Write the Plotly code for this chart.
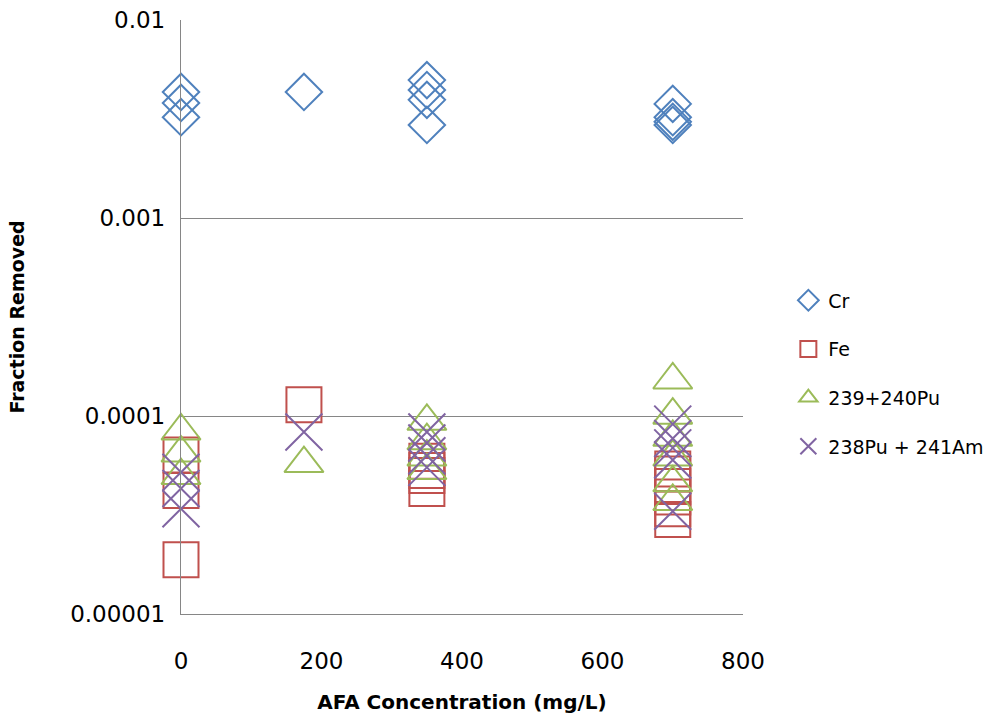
import plotly.graph_objects as go

# AFA concentration (mg/L) and fraction removed for each analyte
cr_x = [0, 0, 0, 175, 350, 350, 350, 350, 700, 700, 700, 700]
cr_y = [0.00433, 0.00381, 0.00323, 0.00433, 0.00497, 0.00443, 0.00395, 0.00295,
        0.00377, 0.00323, 0.00306, 0.00295]

fe_x = [0, 0, 0, 175, 350, 350, 350, 350, 700, 700, 700, 700, 700, 700]
fe_y = [0.0000635, 0.0000420, 0.0000188, 0.000114, 0.0000590, 0.0000530, 0.0000500,
        0.0000430, 0.0000540, 0.0000510, 0.0000440, 0.0000390, 0.0000340, 0.0000300]

pu_x = [0, 0, 0, 175, 350, 350, 350, 350, 700, 700, 700, 700, 700, 700]
pu_y = [0.0000840, 0.0000650, 0.0000500, 0.0000575, 0.0000940, 0.0000750, 0.0000620,
        0.0000530, 0.000152, 0.000101, 0.0000780, 0.0000620, 0.0000460, 0.0000370]

am_x = [0, 0, 0, 175, 350, 350, 350, 350, 700, 700, 700, 700, 700]
am_y = [0.0000520, 0.0000430, 0.0000340, 0.0000830, 0.0000830, 0.0000730, 0.0000630,
        0.0000550, 0.0000910, 0.0000770, 0.0000690, 0.0000600, 0.0000330]

y_ticks = [0.00001, 0.0001, 0.001, 0.01]
y_tick_text = ["0.00001", "0.0001", "0.001", "0.01"]
x_ticks = [0, 200, 400, 600, 800]

FONT = "DejaVu Sans"
GRID = "#868686"

series = [
    ("Cr", cr_x, cr_y, "diamond-open", 28, "#4F81BD"),
    ("Fe", fe_x, fe_y, "square-open", 35, "#C0504D"),
    ("239+240Pu", pu_x, pu_y, "triangle-up-open", 34, "#9BBB59"),
    ("238Pu + 241Am", am_x, am_y, "x-thin-open", 37, "#8064A2"),
]

fig = go.Figure()
for i, (name, xs, ys, sym, size, color) in enumerate(series):
    fig.add_trace(go.Scatter(
        x=xs, y=ys, mode="markers", name=name, legendgroup=f"g{i}",
        cliponaxis=False,
        marker=dict(symbol=sym, size=size, color=color,
                    line=dict(color=color, width=2)),
    ))

fig.update_layout(
    width=1003, height=727,
    margin=dict(l=181, r=260, t=20, b=113, autoexpand=False),
    paper_bgcolor="white", plot_bgcolor="white",
    font=dict(family=FONT, size=23, color="black"),
    showlegend=True,
    legend=dict(xref="container", yref="container",
                x=0.786, xanchor="left", y=0.613, yanchor="top",
                font=dict(family=FONT, size=19, color="black"),
                tracegroupgap=21, bgcolor="rgba(0,0,0,0)"),
    xaxis=dict(
        range=[0, 800], tickvals=x_ticks, showgrid=False, zeroline=False,
        showline=True, linecolor=GRID, linewidth=1.3,
        ticks="", ticklabelstandoff=26,
        tickfont=dict(family=FONT, size=23),
        title=dict(text="<b>AFA Concentration (mg/L)</b>",
                   font=dict(family=FONT, size=20), standoff=22),
    ),
    yaxis=dict(
        type="log", range=[-5, -2], tickvals=y_ticks, ticktext=y_tick_text,
        showgrid=True, gridcolor=GRID, gridwidth=1.3,
        showline=True, linecolor=GRID, linewidth=1.3,
        ticks="", ticklabelstandoff=10,
        tickfont=dict(family=FONT, size=23),
        title=dict(text="<b>Fraction Removed</b>",
                   font=dict(family=FONT, size=19), standoff=40),
    ),
)

fig.write_html("out.html")
